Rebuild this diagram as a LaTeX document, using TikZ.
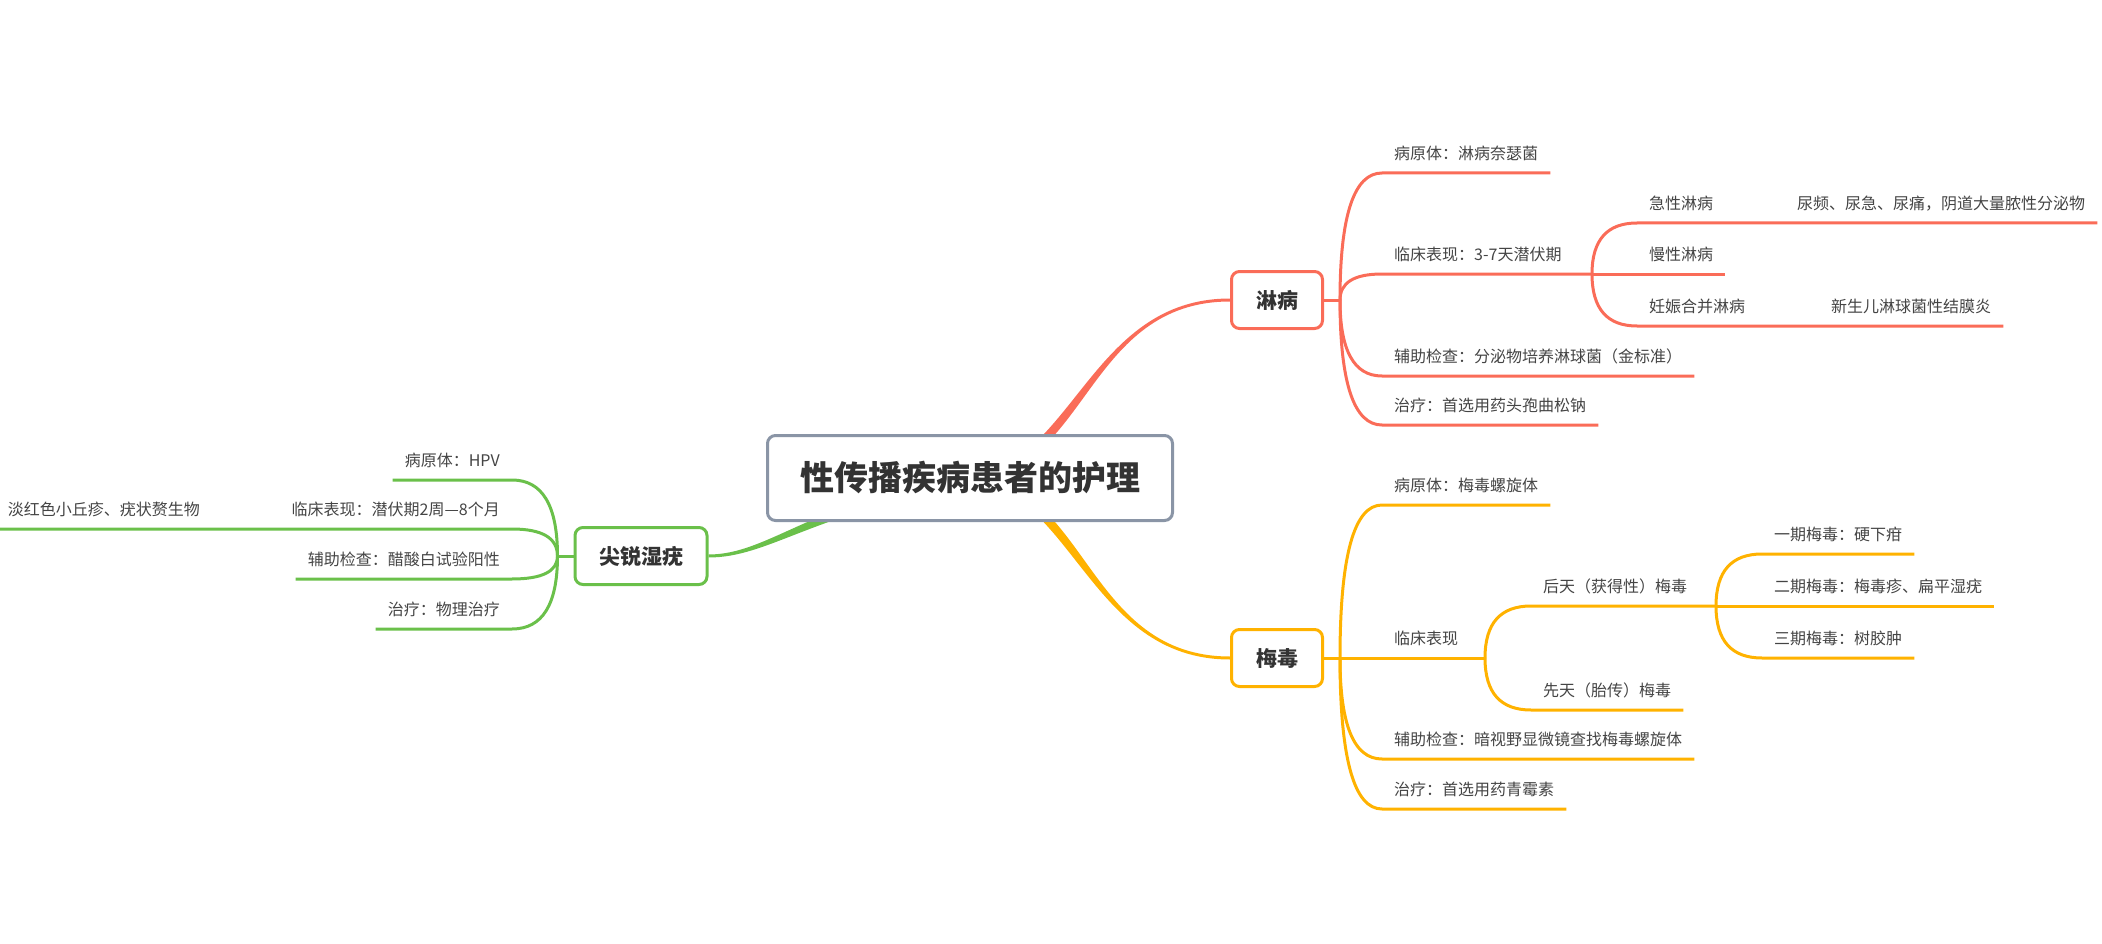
\documentclass[tikz,border=0pt]{standalone}
\usepackage{fontspec}
\newfontfamily\cjk{Noto Sans CJK SC}
\usetikzlibrary{calc,backgrounds}
\definecolor{lred}{RGB}{250,108,88}
\definecolor{lyel}{RGB}{255,178,0}
\definecolor{lgrn}{RGB}{106,192,74}
\definecolor{rootgray}{RGB}{138,149,166}
\definecolor{txt}{RGB}{51,51,51}
\definecolor{leaftxt}{RGB}{68,68,68}

\begin{document}
\begin{tikzpicture}[x=1pt,y=-1pt,
 main/.style={rectangle,rounded corners=8pt,draw=rootgray,line width=3pt,fill=white,minimum width=405pt,minimum height=85pt,text=txt,font=\cjk\bfseries\fontsize{34}{40}\selectfont},
 topic/.style={rectangle,rounded corners=8pt,line width=3pt,fill=white,minimum height=57pt,text=txt,font=\cjk\bfseries\fontsize{21}{24}\selectfont},
 sub/.style={inner xsep=12pt,inner ysep=0pt,minimum height=38pt,text=leaftxt,font=\cjk\fontsize{16}{19}\selectfont},
 curv/.style={to path={.. controls ($(\tikztostart)!2/3!(\tikztostart |- \tikztotarget)$) and ($(\tikztotarget)!2/3!(\tikztostart |- \tikztotarget)$) .. (\tikztotarget)}},
 redline/.style={draw=lred,line width=3pt},
 yelline/.style={draw=lyel,line width=3pt},
 grnline/.style={draw=lgrn,line width=3pt}]
 \useasboundingbox (0,0) rectangle (2102,944);

 \node[main] (root) at (970,478) {性传播疾病患者的护理};
 \node[topic,draw=lred,minimum width=91pt] (lin) at (1277,300) {淋病};
 \node[topic,draw=lyel,minimum width=91pt] (mei) at (1277,658) {梅毒};
 \node[topic,draw=lgrn,minimum width=132pt] (jian) at (641,556) {尖锐湿疣};

 \begin{scope}[on background layer]
 \fill[lred] ($(root.center)+(-7,0)$) .. controls +(110,-8) and +(-142,0) .. ($(lin.west)+(0,-1.5)$) -- ($(lin.west)+(0,1.5)$) .. controls +(-142,0) and +(110,-8) .. ($(root.center)+(7,0)$) -- cycle;
 \fill[lyel] ($(root.center)+(-7,0)$) .. controls +(110,8) and +(-142,0) .. ($(mei.west)+(0,1.5)$) -- ($(mei.west)+(0,-1.5)$) .. controls +(-142,0) and +(110,8) .. ($(root.center)+(7,0)$) -- cycle;
 \fill[lgrn] ($(root.center)+(0,-6)$) .. controls +(-160,30) and +(60,0) .. ($(jian.east)+(0,-1.5)$) -- ($(jian.east)+(0,1.5)$) .. controls +(60,0) and +(-160,30) .. ($(root.center)+(0,6)$) -- cycle;
 \end{scope}

 % 淋病
 \coordinate (lr) at ($(lin.east)+(16,0)$);
 \coordinate (lr2) at (1592,274);
 \node[sub,anchor=south west] (lpath) at (1382,173) {病原体：淋病奈瑟菌};
 \node[sub,anchor=south west] (lclin) at (1382,274) {临床表现：3-7天潜伏期};
 \node[sub,anchor=south west] (lacute) at (1637,223) {急性淋病};
 \node[sub,anchor=south west] (lurin) at (1785,223) {尿频、尿急、尿痛，阴道大量脓性分泌物};
 \node[sub,anchor=south west] (lchron) at (1637,274) {慢性淋病};
 \node[sub,anchor=south west] (lpreg) at (1637,326) {妊娠合并淋病};
 \node[sub,anchor=south west] (lneo) at (1819,326) {新生儿淋球菌性结膜炎};
 \node[sub,anchor=south west] (laux) at (1382,376) {辅助检查：分泌物培养淋球菌（金标准）};
 \node[sub,anchor=south west] (ltreat) at (1382,425) {治疗：首选用药头孢曲松钠};
 \draw[redline] (lin.east) -- (lr);
 \draw[redline] (lr) to[curv] (lpath.south west) -- (lpath.south east);
 \draw[redline] (lr) to[curv] (lclin.south west) -- (lr2);
 \draw[redline] (lr2) to[curv] (lacute.south west) -- (lurin.south west) -- (lurin.south east);
 \draw[redline] (lr2) to[curv] (lchron.south west) -- (lchron.south east);
 \draw[redline] (lr2) to[curv] (lpreg.south west) -- (lneo.south west) -- (lneo.south east);
 \draw[redline] (lr) to[curv] (laux.south west) -- (laux.south east);
 \draw[redline] (lr) to[curv] (ltreat.south west) -- (ltreat.south east);

 % 梅毒
 \coordinate (mr) at ($(mei.east)+(16,0)$);
 \coordinate (mr2) at (1485,658);
 \coordinate (mr3) at (1716,606);
 \node[sub,anchor=south west] (mpath) at (1382,505) {病原体：梅毒螺旋体};
 \node[sub,anchor=south west] (mclin) at (1382,658) {临床表现};
 \node[sub,anchor=south west] (macq) at (1531,606) {后天（获得性）梅毒};
 \node[sub,anchor=south west] (mone) at (1762,554) {一期梅毒：硬下疳};
 \node[sub,anchor=south west] (mtwo) at (1762,606) {二期梅毒：梅毒疹、扁平湿疣};
 \node[sub,anchor=south west] (mthree) at (1762,658) {三期梅毒：树胶肿};
 \node[sub,anchor=south west] (mcong) at (1531,710) {先天（胎传）梅毒};
 \node[sub,anchor=south west] (maux) at (1382,759) {辅助检查：暗视野显微镜查找梅毒螺旋体};
 \node[sub,anchor=south west] (mtreat) at (1382,809) {治疗：首选用药青霉素};
 \draw[yelline] (mei.east) -- (mr);
 \draw[yelline] (mr) to[curv] (mpath.south west) -- (mpath.south east);
 \draw[yelline] (mr) to[curv] (mclin.south west) -- (mr2);
 \draw[yelline] (mr2) to[curv] (macq.south west) -- (mr3);
 \draw[yelline] (mr3) to[curv] (mone.south west) -- (mone.south east);
 \draw[yelline] (mr3) to[curv] (mtwo.south west) -- (mtwo.south east);
 \draw[yelline] (mr3) to[curv] (mthree.south west) -- (mthree.south east);
 \draw[yelline] (mr2) to[curv] (mcong.south west) -- (mcong.south east);
 \draw[yelline] (mr) to[curv] (maux.south west) -- (maux.south east);
 \draw[yelline] (mr) to[curv] (mtreat.south west) -- (mtreat.south east);

 % 尖锐湿疣
 \coordinate (jr) at ($(jian.west)+(-16,0)$);
 \node[sub,anchor=south east] (jpath) at (512,480) {病原体：HPV};
 \node[sub,anchor=south east] (jclin) at (512,529) {临床表现：潜伏期2周—8个月};
 \node[sub,anchor=south east] (jskin) at (212,529) {淡红色小丘疹、疣状赘生物};
 \node[sub,anchor=south east] (jaux) at (512,579) {辅助检查：醋酸白试验阳性};
 \node[sub,anchor=south east] (jtreat) at (512,629) {治疗：物理治疗};
 \draw[grnline] (jian.west) -- (jr);
 \draw[grnline] (jr) to[curv] (jpath.south east) -- (jpath.south west);
 \draw[grnline] (jr) to[curv] (jclin.south east) -- (jskin.south east) -- (jskin.south west);
 \draw[grnline] (jr) to[curv] (jaux.south east) -- (jaux.south west);
 \draw[grnline] (jr) to[curv] (jtreat.south east) -- (jtreat.south west);
\end{tikzpicture}
\end{document}
